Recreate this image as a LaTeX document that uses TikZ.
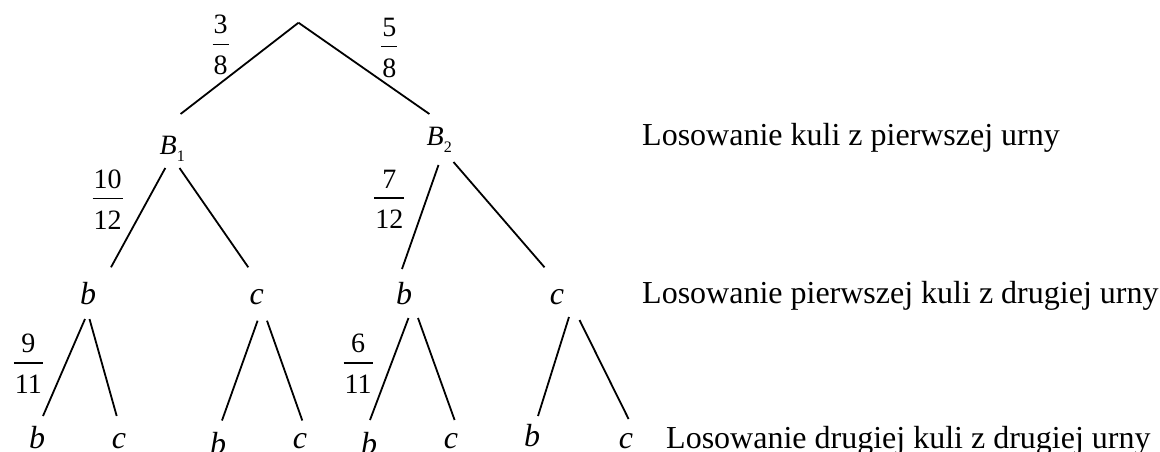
\documentclass[tikz,border=0pt]{standalone}
\usepackage{fontspec}
\setmainfont{Liberation Serif}
\newcommand\myfr[2]{%
  \setbox0=\hbox{#1}\setbox2=\hbox{#2}%
  \dimen0=\wd0 \ifdim\wd2>\dimen0 \dimen0=\wd2 \fi
  \advance\dimen0 by 2pt
  \vbox{\hbox to\dimen0{\hfil\box0\hfil}\kern9.25pt\hrule height1.5pt\kern11.25pt\hbox to\dimen0{\hfil\box2\hfil}}}
\newcommand\evsub[2]{\textit{#1}\raisebox{-7.5pt}{\fontsize{16}{16}\selectfont #2}}
\begin{document}
\begin{tikzpicture}[x=1pt,y=-1pt,
  branch/.style={line width=1.8pt},
  lbl/.style={font=\fontsize{32}{36}\selectfont, inner sep=0pt, anchor=base west},
  var/.style={font=\fontsize{32}{36}\selectfont\itshape, inner sep=0pt, anchor=base},
  evt/.style={font=\fontsize{28}{30}\selectfont, inner sep=0pt, anchor=base west},
  prob/.style={font=\fontsize{28}{30}\selectfont, inner sep=0pt}]
\useasboundingbox (0,0) rectangle (1160,452);

% root and first level
\coordinate (r) at (298.5,22.7);
\node[evt] (B1) at (159.5,154) {\evsub{B}{1}};
\node[evt] (B2) at (426.5,145) {\evsub{B}{2}};
\coordinate (B1u) at (180.6,114);
\coordinate (B2u) at (429.4,114);
\draw[branch] (r) -- (B1u);
\draw[branch] (r) -- (B2u);
\node[prob] (p38) at (220.6,45.3) {\myfr{3}{8}};
\node[prob] (p58) at (389.4,47.7) {\myfr{5}{8}};

% second level
\node[var] (b1) at (88,304) {b};
\node[var] (c1) at (256.7,304) {c};
\node[var] (b2) at (404,304) {b};
\node[var] (c2) at (557,304) {c};
\coordinate (B1dl) at (165.3,168);
\coordinate (B1dr) at (179.5,168);
\coordinate (b1u) at (111,267.3);
\coordinate (c1u) at (248.3,267.3);
\coordinate (B2dl) at (438.5,165);
\coordinate (B2dr) at (453.5,162);
\coordinate (b2u) at (402,269);
\coordinate (c2u) at (544.5,267.3);
\draw[branch] (B1dl) -- (b1u);
\draw[branch] (B1dr) -- (c1u);
\draw[branch] (B2dl) -- (b2u);
\draw[branch] (B2dr) -- (c2u);
\node[prob] (p1012) at (107.5,199.3) {\myfr{10}{12}};
\node[prob] (p712) at (389.4,199.3) {\myfr{7}{12}};

% third level
\node[var] (bb1) at (37,448) {b};
\node[var] (bc1) at (119,448) {c};
\node[var] (cb1) at (218,454) {b};
\node[var] (cc1) at (300,448) {c};
\node[var] (bb2) at (369,454) {b};
\node[var] (bc2) at (451,448) {c};
\node[var] (cb2) at (532,446) {b};
\node[var] (cc2) at (626,448) {c};
\coordinate (b1dl) at (85,319);
\coordinate (b1dr) at (89.5,319);
\coordinate (c1dl) at (257.6,320.7);
\coordinate (c1dr) at (267,320.7);
\coordinate (b2dl) at (408.5,318);
\coordinate (b2dr) at (418,318);
\coordinate (c2dl) at (569,317);
\coordinate (c2dr) at (579.5,320);
\coordinate (bb1u) at (43,416);
\coordinate (bc1u) at (116.7,416);
\coordinate (cb1u) at (222,420.5);
\coordinate (cc1u) at (302.3,420.5);
\coordinate (bb2u) at (370,420);
\coordinate (bc2u) at (454.6,420);
\coordinate (cb2u) at (538,416);
\coordinate (cc2u) at (628.6,419);
\draw[branch] (b1dl) -- (bb1u);
\draw[branch] (b1dr) -- (bc1u);
\draw[branch] (c1dl) -- (cb1u);
\draw[branch] (c1dr) -- (cc1u);
\draw[branch] (b2dl) -- (bb2u);
\draw[branch] (b2dr) -- (bc2u);
\draw[branch] (c2dl) -- (cb2u);
\draw[branch] (c2dr) -- (cc2u);
\node[prob] (p911) at (28.3,363.7) {\myfr{9}{11}};
\node[prob] (p611) at (358.2,363.7) {\myfr{6}{11}};

% level descriptions
\node[lbl] (L1) at (642,145) {Losowanie kuli z pierwszej urny};
\node[lbl] (L2) at (642,303) {Losowanie pierwszej kuli z drugiej urny};
\node[lbl] (L3) at (666,448) {Losowanie drugiej kuli z drugiej urny};
\end{tikzpicture}
\end{document}
